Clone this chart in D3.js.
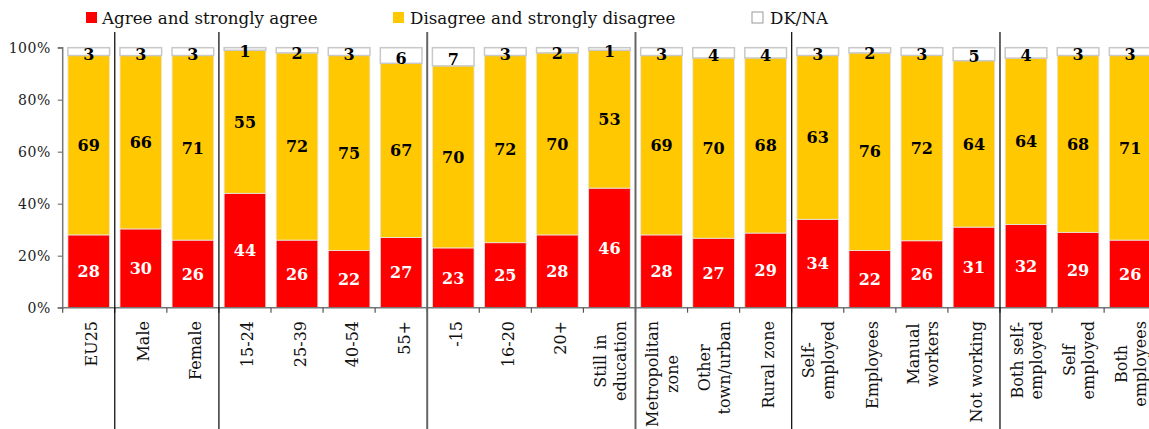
<!DOCTYPE html>
<html><head><meta charset="utf-8">
<script src="https://cdn.jsdelivr.net/npm/d3@7"></script>
<style>
body{margin:0;background:#fff}
svg{display:block}
text{font-family:'DejaVu Serif',serif}
</style>
</head><body>
<svg id="c" width="1149" height="429"></svg>
<script>
// ---- data ----
const categories = ["EU25","Male","Female","15-24","25-39","40-54","55+","-15","16-20","20+",
  "Still in\neducation","Metropolitan\nzone","Other\ntown/urban","Rural zone","Self-\nemployed",
  "Employees","Manual\nworkers","Not working","Both self-\nemployed","Self\nemployed","Both\nemployees"];
const agree    = [28,30,26,44,26,22,27,23,25,28,46,28,27,29,34,22,26,31,32,29,26];
const disagree = [69,66,71,55,72,75,67,70,72,70,53,69,70,68,63,76,72,64,64,68,71];
const dkna     = [3,3,3,1,2,3,6,7,3,2,1,3,4,4,3,2,3,5,4,3,3];
const seriesNames = ["Agree and strongly agree","Disagree and strongly disagree","DK/NA"];
const yTickValues = [0,0.2,0.4,0.6,0.8,1.0];
const groupEnds = [0,2,6,10,13,17];          // separator after these category indices
const groupSepDark = [true,true,false,false,true,true];

// ---- styles ----
const colors = ["#FF0000","#FFC800","#FFFFFF"];
const labelColors = ["#FFFFFF","#000000","#000000"];

const svg = d3.select("#c");
const X0 = 62.7, X1 = 1156.2, Y0 = 307.7, Y1 = 47.7;

const rows = categories.map((c,i)=>({cat:c, a:agree[i], d:disagree[i], n:dkna[i]}));
const keys = ["a","d","n"];
const stacked = d3.stack().keys(keys).offset(d3.stackOffsetExpand)(rows);

const x = d3.scaleBand().domain(categories).range([X0,X1]).paddingInner(0.2).paddingOuter(0.1);
const y = d3.scaleLinear().domain([0,1]).range([Y0,Y1]);
const step = x.step();
const boundary = i => x(categories[i]) - step*0.1;   // left edge of band i

// bars
const g = svg.append("g");
stacked.forEach((s,si)=>{
  g.selectAll(null).data(s).enter().append("rect")
    .attr("x", d=>x(d.data.cat))
    .attr("width", x.bandwidth())
    .attr("y", d=>y(d[1]))
    .attr("height", d=>y(d[0])-y(d[1]))
    .attr("fill", colors[si])
    .attr("stroke", si===2 ? "#c8c8c8" : "#e6e6e6")
    .attr("stroke-width", si===2 ? 1.5 : 0.8);
});
// value labels
const vals = [agree, disagree, dkna];
stacked.forEach((s,si)=>{
  g.selectAll(null).data(s).enter().append("text")
    .attr("x", d=>x(d.data.cat)+x.bandwidth()/2)
    .attr("y", d=>(y(d[0])+y(d[1]))/2 + (si===2?2.5:0))
    .attr("dy","0.36em")
    .attr("text-anchor","middle")
    .attr("font-weight","bold")
    .attr("font-size","16px")
    .attr("fill", labelColors[si])
    .text((d,i)=>vals[si][i]);
});

// y axis
const yAxis = d3.axisLeft(y).tickValues(yTickValues).tickFormat(d3.format(".0%")).tickSize(5).tickPadding(7);
const ya = svg.append("g").attr("transform",`translate(${X0},0)`).call(yAxis);
ya.select(".domain").attr("stroke","#777").attr("stroke-width",1.5).attr("d",`M-5,${Y1}H0V${Y0}H-5`);
ya.selectAll(".tick line").attr("stroke","#777").attr("stroke-width",1.2);
ya.selectAll(".tick text").attr("font-family","'DejaVu Serif',serif").attr("font-size","14px")
  .attr("fill","#222").attr("letter-spacing","0.5px");

// x axis line + boundary ticks
svg.append("line").attr("x1",X0).attr("x2",1149).attr("y1",Y0).attr("y2",Y0)
  .attr("stroke","#777").attr("stroke-width",1.5);
categories.forEach((c,i)=>{
  if(i===0) return;
  const bx = boundary(i);
  svg.append("line").attr("x1",bx).attr("x2",bx).attr("y1",Y0).attr("y2",Y0+5)
    .attr("stroke","#555").attr("stroke-width",1.2);
});
svg.append("line").attr("x1",X0).attr("x2",X0).attr("y1",Y0).attr("y2",Y0+5).attr("stroke","#555").attr("stroke-width",1.2);

// group separators
groupEnds.forEach((gi,k)=>{
  const bx = boundary(gi+1);
  svg.append("line").attr("x1",bx).attr("x2",bx).attr("y1",32).attr("y2",429)
    .attr("stroke", groupSepDark[k] ? "#000" : "#666")
    .attr("stroke-width", groupSepDark[k] ? 1.2 : 2);
});

// category labels (rotated)
const LINE = 19.5, TOP = 321;
categories.forEach(c=>{
  const lines = c.split("\n");
  const cx = x(c)+x.bandwidth()/2;
  const lg = svg.append("g").attr("transform",`translate(${cx},${TOP}) rotate(-90)`);
  const ts = lines.map((l,li)=>lg.append("text")
      .attr("font-size","16px").attr("fill","#111")
      .attr("y", (lines.length>1?6.5:8.5) + (li-(lines.length-1)/2)*LINE)
      .text(l));
  const w = d3.max(ts, t=>t.node().getComputedTextLength());
  ts.forEach(t=>t.attr("x",-w/2).attr("text-anchor","middle"));
});

// legend
const legend = [{x:86,tx:102},{x:393,tx:410},{x:752,tx:770}];
legend.forEach((L,i)=>{
  svg.append("rect").attr("x",L.x).attr("y",12).attr("width",11).attr("height",11)
    .attr("fill",colors[i]).attr("stroke", i===2?"#999":"none").attr("stroke-width",1);
  svg.append("text").attr("x",L.tx).attr("y",24).attr("font-size","16.7px").attr("fill","#111")
    .text(seriesNames[i]);
});
</script>
</body></html>
